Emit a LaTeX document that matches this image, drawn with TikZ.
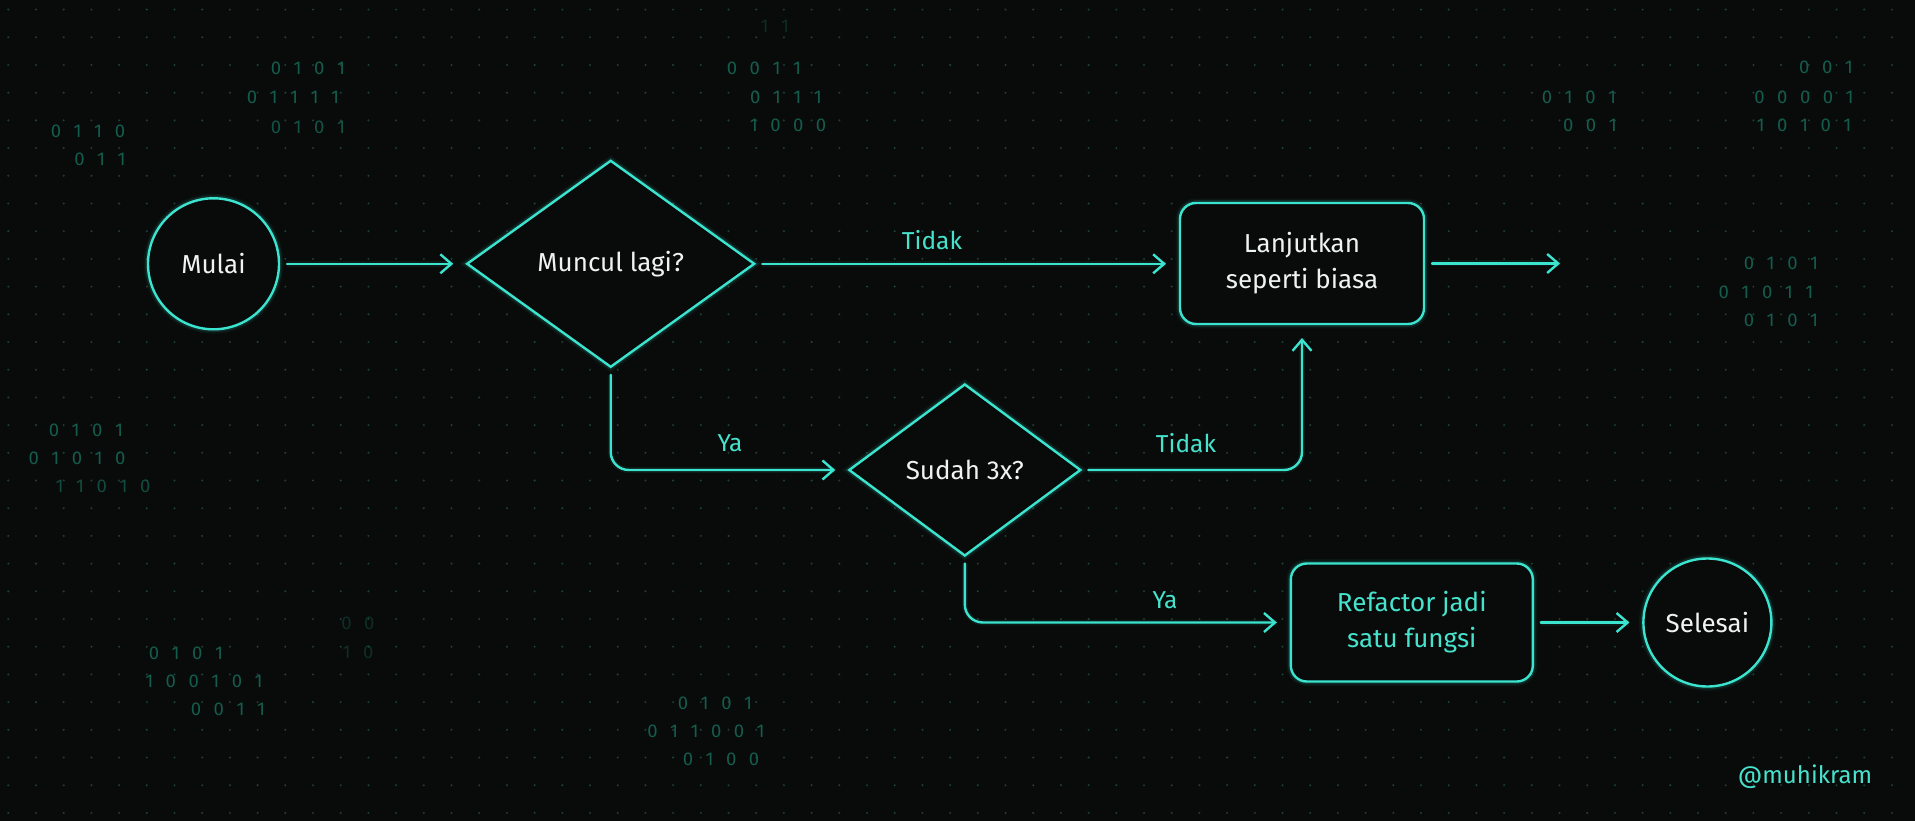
\documentclass[tikz,border=0pt]{standalone}
\usepackage{fontspec}
\setmainfont{Fira Sans}
\usetikzlibrary{arrows.meta,shapes.geometric}
\definecolor{bg}{RGB}{9,10,10}
\definecolor{neon}{RGB}{58,228,206}
\definecolor{txtw}{RGB}{236,243,241}
\definecolor{txtt}{RGB}{70,226,204}
\definecolor{dotc}{RGB}{30,62,54}
\definecolor{bitc}{RGB}{20,92,76}
\newcommand{\bitrow}[1]{{\spaceskip=12.5pt\relax #1}}
\tikzset{
  glow/.style={preaction={draw=neon,line width=9pt,opacity=0.05},
               preaction={draw=neon,line width=5.5pt,opacity=0.12}},
  shapebase/.style={draw=neon,line width=2.4pt,fill=bg,inner sep=0pt,outer sep=0pt,
                    text=txtw,font=\fontsize{26}{36}\selectfont,align=center,glow},
  circ/.style={shapebase,circle},
  dia/.style={shapebase,diamond},
  boxs/.style={shapebase,rectangle,rounded corners=16pt},
  conn/.style={draw=neon,line width=2.4pt,line cap=round,
               -{Straight Barb[length=11pt,width=19pt]},
               shorten >=14pt,shorten <=8pt,
               preaction={draw=neon,line width=6pt,opacity=0.07,arrows=-}},
  lbl/.style={text=txtt,font=\fontsize{24.5}{28}\selectfont,inner sep=0pt},
  wm/.style={text=txtt,font=\fontsize{24}{28}\selectfont,inner sep=0pt},
  bits/.style={text=bitc,inner sep=0pt,font=\fontsize{18.5}{22}\selectfont},
}
\begin{document}
\begin{tikzpicture}[x=1pt,y=-1pt]
\fill[bg] (0,0) rectangle (1915,821);
\useasboundingbox (0,0) rectangle (1915,821);
% dot grid
\foreach \gi in {0,...,69}{
  \foreach \gj in {0,...,29}{
    \fill[dotc] (8.3+27.7*\gi,9.6+27.7*\gj) circle (1.15pt);
  }
}
% binary background
\foreach \bx/\by/\bt/\bo [count=\bk] in {
  88/131/0 1 1 0/1, 100/159/0 1 1/1,
  308/68/0 1 0 1/1, 293/97/0 1 1 1 1/1, 308/127/0 1 0 1/0.9,
  775/26/1 1/0.4, 764/68/0 0 1 1/1, 786/97/0 1 1 1/1, 788/125/1 0 0 0/1,
  1579/97/0 1 0 1/1, 1590/125/0 0 1/1,
  1826/67/0 0 1/1, 1804/97/0 0 0 0 1/1, 1804/125/1 0 1 0 1/1,
  1781/263/0 1 0 1/1, 1766/292/0 1 0 1 1/1, 1781/320/0 1 0 1/1,
  86/430/0 1 0 1/1, 77/458/0 1 0 1 0/1, 103/486/1 1 0 1 0/0.8,
  186/653/0 1 0 1/1, 204/681/1 0 0 1 0 1/1, 228/709/0 0 1 1/1,
  358/623/0 0/0.45, 358/652/1 0/0.45,
  715/703/0 1 0 1/1, 706/731/0 1 1 0 0 1/1, 721/759/0 1 0 0/1}{
  \node[bits,opacity=\bo] (bit\bk) at (\bx,\by) {\bitrow{\bt}};
}
% nodes
\node[circ,minimum size=131pt] (mulai) at (213.5,263.8) {Mulai};
\node[dia,minimum width=287pt,minimum height=206pt] (muncul) at (610.7,263.8) {Muncul lagi?};
\node[boxs,minimum width=244pt,minimum height=121pt] (lanjut) at (1302,263.5) {Lanjutkan\\seperti biasa};
\node[dia,minimum width=231pt,minimum height=171pt] (sudah) at (964.8,470) {Sudah 3x?};
\node[boxs,text=txtt,minimum width=242pt,minimum height=118pt] (refac) at (1411.8,622.5) {Refactor jadi\\satu fungsi};
\node[circ,minimum size=128pt] (selesai) at (1707.4,622.5) {Selesai};
\coordinate (outend) at (1560,263.5);
% connectors
\draw[conn] (mulai) -- (muncul);
\draw[conn] (muncul.east) -- (muncul.east -| lanjut.west);
\draw[conn,shorten >=0pt] (lanjut.east) -- (outend);
\draw[conn,rounded corners=18pt] (muncul.south) |- (sudah.west);
\draw[conn,rounded corners=18pt] (sudah.east) -| (lanjut.south);
\draw[conn,rounded corners=18pt] (sudah.south) |- (refac.west);
\draw[conn] (refac) -- (selesai);
% labels
\node[lbl] (t1) at (932,240.5) {Tidak};
\node[lbl] (y1) at (730,443) {Ya};
\node[lbl] (t2) at (1186,443) {Tidak};
\node[lbl] (y2) at (1165,600) {Ya};
\node[wm] (wm) at (1805,777) {@muhikram};
\end{tikzpicture}
\end{document}
